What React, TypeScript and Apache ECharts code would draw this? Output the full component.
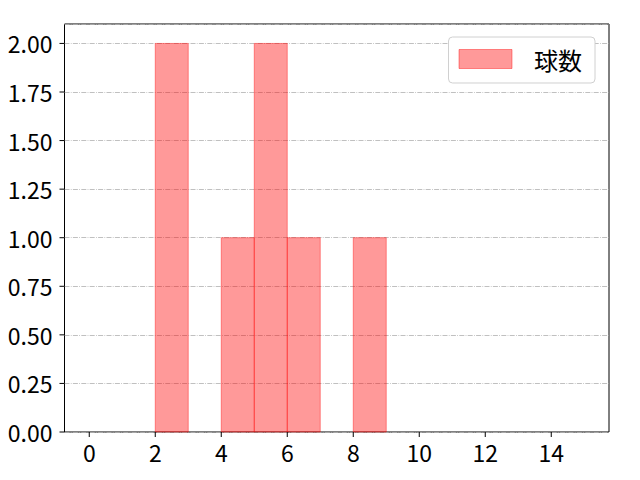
import React, { useEffect, useRef } from "react";
import * as echarts from "echarts";

const binEdges = [0, 1, 2, 3, 4, 5, 6, 7, 8, 9, 10, 11, 12, 13, 14, 15];
const counts = [0, 0, 2, 0, 1, 2, 1, 0, 1, 0, 0, 0, 0, 0, 0];
const xTicks = [0, 2, 4, 6, 8, 10, 12, 14];
const yTicks = [0, 0.25, 0.5, 0.75, 1.0, 1.25, 1.5, 1.75, 2.0];
const xMin = -0.75;
const xMax = 15.75;
const yMin = 0;
const yMax = 2.1;
const seriesName = "球数";

const FONT = "'Noto Sans CJK JP', 'Noto Sans', sans-serif";
const FILL = "rgba(255,0,0,0.4)";
const TICK_LEN = 5;

export default function App() {
  const ref = useRef<HTMLDivElement>(null);
  useEffect(() => {
    if (!ref.current) return;
    const chart = echarts.init(ref.current, null, { renderer: "svg" });
    const data = counts
      .map((c, i) => [binEdges[i], binEdges[i + 1], c])
      .filter((d) => d[2] > 0);
    const tickStyle = { stroke: "#000000", lineWidth: 1 };
    chart.setOption({
      animation: false,
      backgroundColor: "#ffffff",
      textStyle: { fontFamily: FONT },
      grid: {
        left: 64.5,
        right: 31,
        top: 24,
        bottom: 48,
        show: true,
        borderColor: "#000000",
        borderWidth: 1,
        backgroundColor: "transparent",
        containLabel: false,
      },
      legend: {
        show: true,
        right: 45,
        top: 37,
        orient: "vertical",
        backgroundColor: "#ffffff",
        borderColor: "#d0d0d0",
        borderWidth: 1,
        borderRadius: 4,
        padding: [10, 13, 12, 10],
        itemWidth: 53,
        itemHeight: 19,
        textStyle: {
          fontFamily: FONT,
          fontSize: 24,
          color: "#000000",
          padding: [0, 0, 0, 17],
        },
        data: [
          {
            name: seriesName,
            icon: "rect",
            itemStyle: { color: FILL, borderColor: FILL, borderWidth: 1 },
          },
        ],
      },
      xAxis: {
        type: "value",
        min: xMin,
        max: xMax,
        axisLine: { show: false },
        splitLine: { show: false },
        axisTick: { show: false },
        axisLabel: {
          customValues: xTicks,
          fontFamily: FONT,
          fontSize: 23,
          color: "#000000",
          margin: 8,
        },
      },
      yAxis: {
        type: "value",
        min: yMin,
        max: yMax,
        interval: 0.25,
        axisLine: { show: false },
        splitLine: {
          show: true,
          lineStyle: { color: "#b0b0b0", width: 0.8, type: [5, 1.3, 0.8, 1.3] },
        },
        axisTick: { show: false },
        axisLabel: {
          customValues: yTicks,
          formatter: (v: number) => v.toFixed(2),
          fontFamily: FONT,
          fontSize: 23,
          color: "#000000",
          margin: 12,
        },
      },
      series: [
        {
          name: seriesName,
          type: "custom",
          itemStyle: { color: FILL },
          encode: { x: [0, 1], y: 2 },
          renderItem: (params: any, api: any) => {
            const start = api.coord([api.value(0), 0]);
            const end = api.coord([api.value(1), api.value(2)]);
            return {
              type: "rect",
              shape: {
                x: start[0],
                y: end[1],
                width: end[0] - start[0],
                height: start[1] - end[1],
              },
              style: { fill: FILL, stroke: FILL, lineWidth: 1 },
            };
          },
          data,
        },
        {
          name: "xticks",
          type: "custom",
          silent: true,
          clip: false,
          encode: { x: 0, y: 1 },
          renderItem: (params: any, api: any) => {
            const p = api.coord([api.value(0), api.value(1)]);
            return {
              type: "line",
              shape: { x1: p[0], y1: p[1], x2: p[0], y2: p[1] + TICK_LEN },
              style: tickStyle,
            };
          },
          data: xTicks.map((v) => [v, yMin]),
        },
        {
          name: "yticks",
          type: "custom",
          silent: true,
          clip: false,
          encode: { x: 0, y: 1 },
          renderItem: (params: any, api: any) => {
            const p = api.coord([api.value(0), api.value(1)]);
            return {
              type: "line",
              shape: { x1: p[0], y1: p[1], x2: p[0] - TICK_LEN, y2: p[1] },
              style: tickStyle,
            };
          },
          data: yTicks.map((v) => [xMin, v]),
        },
      ],
    });
    return () => chart.dispose();
  }, []);
  return (
    <div
      ref={ref}
      style={{ position: "fixed", left: 0, top: 0, width: 640, height: 480 }}
    />
  );
}
